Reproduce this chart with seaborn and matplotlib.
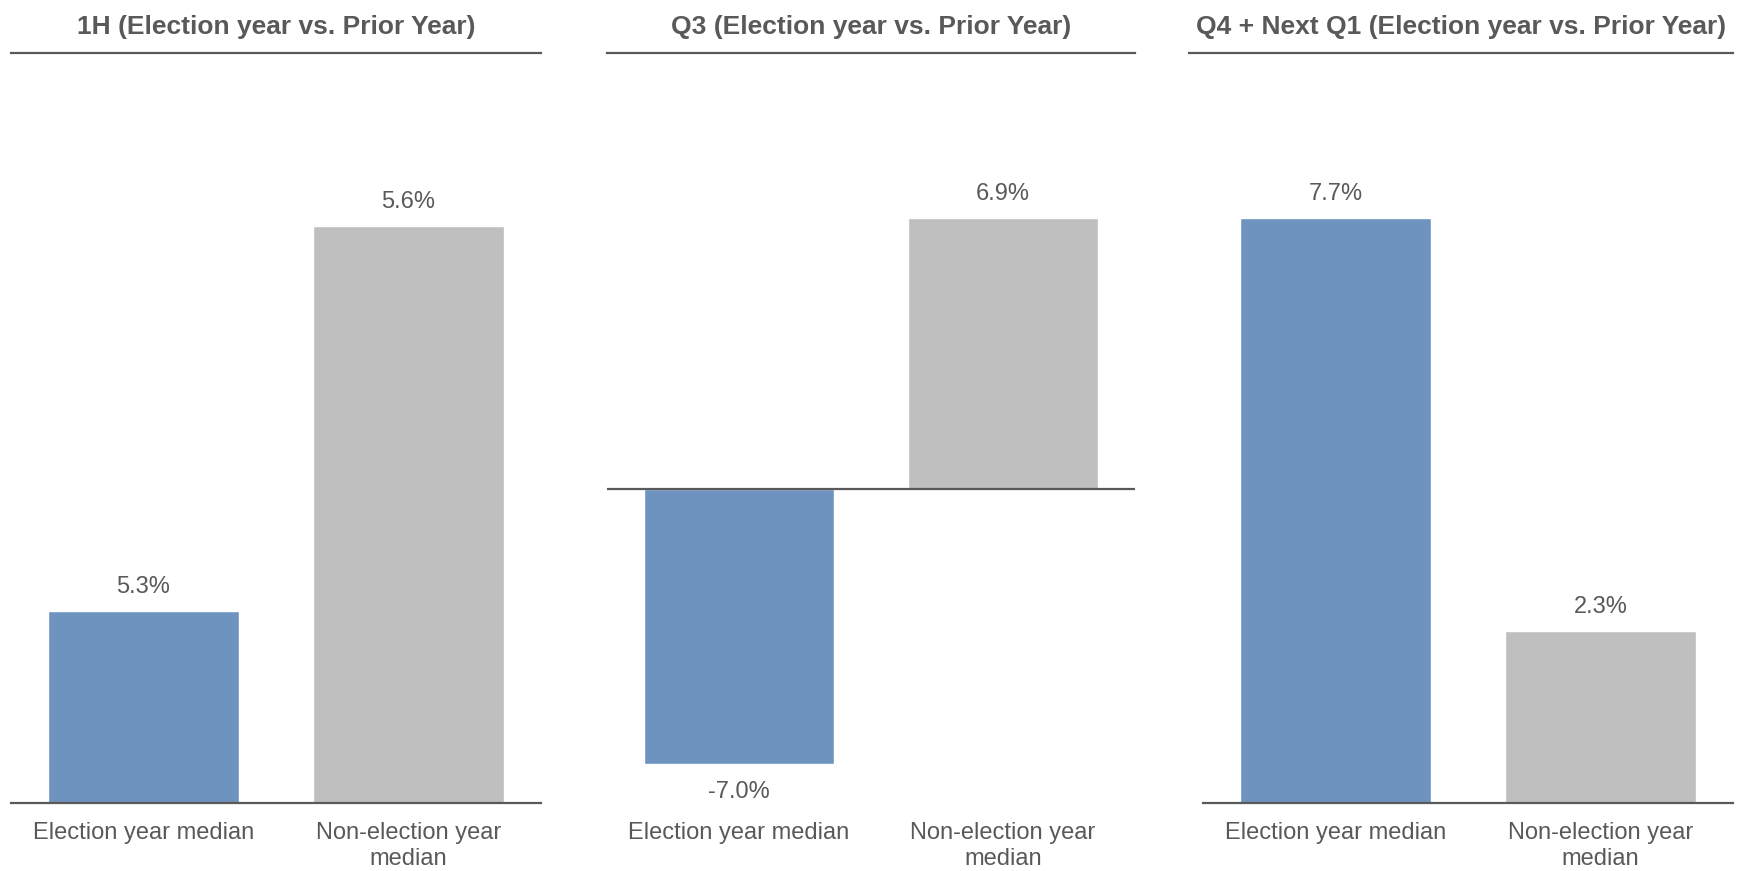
import numpy as np
import pandas as pd
import matplotlib
matplotlib.use("Agg")
import matplotlib.pyplot as plt
import seaborn as sns

# Data
categories = ["Election year median", "Non-election year\nmedian"]
panel_titles = [
    "1H (Election year vs. Prior Year)",
    "Q3 (Election year vs. Prior Year)",
    "Q4 + Next Q1 (Election year vs. Prior Year)",
]
h1_values = [5.3, 5.6]
q3_values = [-7.0, 6.9]
q4_values = [7.7, 2.3]

sns.set_theme(style="white")
plt.rcParams['font.family'] = ['Liberation Sans', 'DejaVu Sans']

BLUE = "#6F93BF"
GRAY = "#BFBFBF"
TEXT = "#595959"
LINE = "#595959"

fig = plt.figure(figsize=(17.48, 8.71), dpi=100)
W, H = 1748, 871

# axes boxes in pixels (left, width); all share the same vertical span
boxes = [(11, 530), (607, 528), (1189, 544)]
top_px, base_px = 53, 803

# each panel has its own scale in the reference
ylims = [(5.1506, 5.7343), (-8.0, 11.10), (0.051, 9.857)]
xlims = [(-0.5, 1.5), (-0.5, 1.5), (-0.553, 1.5)]
series = [h1_values, q3_values, q4_values]

for i, (vals, title) in enumerate(zip(series, panel_titles)):
    left, wpx = boxes[i]
    ylim = ylims[i]
    ax = fig.add_axes([left / W, (H - base_px) / H,
                       wpx / W, (base_px - top_px) / H])
    df = pd.DataFrame({'cat': categories, 'val': vals})
    sns.barplot(data=df, x='cat', y='val', hue='cat', palette=[BLUE, GRAY],
                width=0.72, saturation=1, legend=False, ax=ax)
    ax.set_ylim(*ylim)
    ax.set_xlim(*xlims[i])

    # label each bar
    for x, v in enumerate(vals):
        off = 17 if v >= 0 else -20
        ax.annotate(f"{v:.1f}%", (x, v), xytext=(0, off),
                    textcoords='offset points', ha='center', va='center',
                    fontsize=17, color=TEXT)

    ax.set_title(title, fontsize=19, fontweight='bold', color=TEXT, pad=14)
    ax.set_xlabel("")
    ax.set_ylabel("")
    ax.set_yticks([])
    ax.tick_params(axis='x', length=0, pad=14, labelsize=17, labelcolor=TEXT)

    for s in ['left', 'right']:
        ax.spines[s].set_visible(False)
    ax.spines['top'].set_color(LINE)
    ax.spines['top'].set_linewidth(1.6)
    if ylim[0] < 0:
        ax.spines['bottom'].set_visible(False)
        ax.axhline(0, color=LINE, lw=1.6, zorder=3)
    else:
        ax.spines['bottom'].set_color(LINE)
        ax.spines['bottom'].set_linewidth(1.6)
        ax.spines['bottom'].set_bounds(-0.5, 1.5)

fig.savefig("out.png", dpi=100, facecolor='white')
